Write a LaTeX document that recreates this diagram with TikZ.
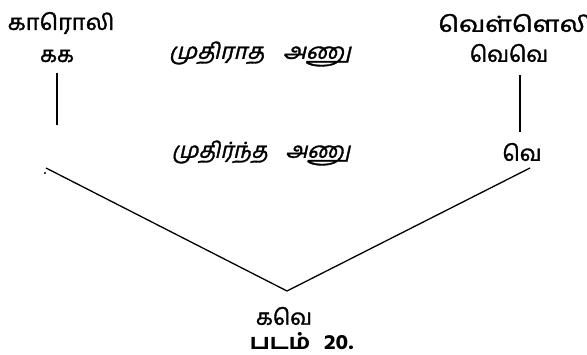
\documentclass[tikz,border=0pt]{standalone}
\usepackage{graphicx}
\usepackage{fontspec}
\newfontfamily\tam[Script=Tamil,FakeBold=1.5]{Hind Madurai}
\newfontfamily\tamit[Script=Tamil,FakeSlant=0.22,FakeBold=1.5]{Hind Madurai}
\newfontfamily\tambf[Script=Tamil]{Hind Madurai Bold}
\begin{document}
\begin{tikzpicture}[x=1pt,y=-1pt,
  lbl/.style={inner sep=0pt,font=\tam\fontsize{22}{26}\selectfont},
  ilbl/.style={inner sep=0pt,font=\tamit\fontsize{22}{26}\selectfont},
  captxt/.style={inner sep=0pt,font=\tambf\fontsize{21}{24}\selectfont},
  ln/.style={line width=1.3pt,black}]
\useasboundingbox (0,0) rectangle (587,355);
\node[lbl] (black) at (61,23) {\scalebox{1.07}[1]{காரொலி}};
\node[lbl] (kk) at (57,56) {கக};
\node[lbl] (white) at (515,23) {\scalebox{1.2}[1]{வெள்ளெலி}};
\node[lbl] (ww) at (509,53) {வெவெ};
\node[ilbl] (immature) at (260,54) {\scalebox{1.05}[1]{முதிராத\hspace{0.8em}அணு}};
\node[ilbl] (mature) at (261,153) {\scalebox{1.0}[1]{முதிர்ந்த\hspace{0.8em}அணு}};
\node[lbl] (w) at (522,152) {வெ};
\node[lbl] (kw) at (284,316) {கவெ};
\node[captxt] (caption) at (302,341) {\scalebox{1.1}[1]{படம்\hspace{0.6em}20.}};
\coordinate (l1) at (57,73);
\coordinate (l2) at (57,125);
\coordinate (r1) at (520,75);
\coordinate (r2) at (520,132);
\coordinate (gl) at (46,168);
\coordinate (gr) at (530,168);
\coordinate (apex) at (287,291);
\draw[ln] (l1) -- (l2);
\draw[ln] (r1) -- (r2);
\draw[ln] (gl) -- (apex) -- (gr);
\fill (45,173) circle (1.2pt);
\end{tikzpicture}
\end{document}
